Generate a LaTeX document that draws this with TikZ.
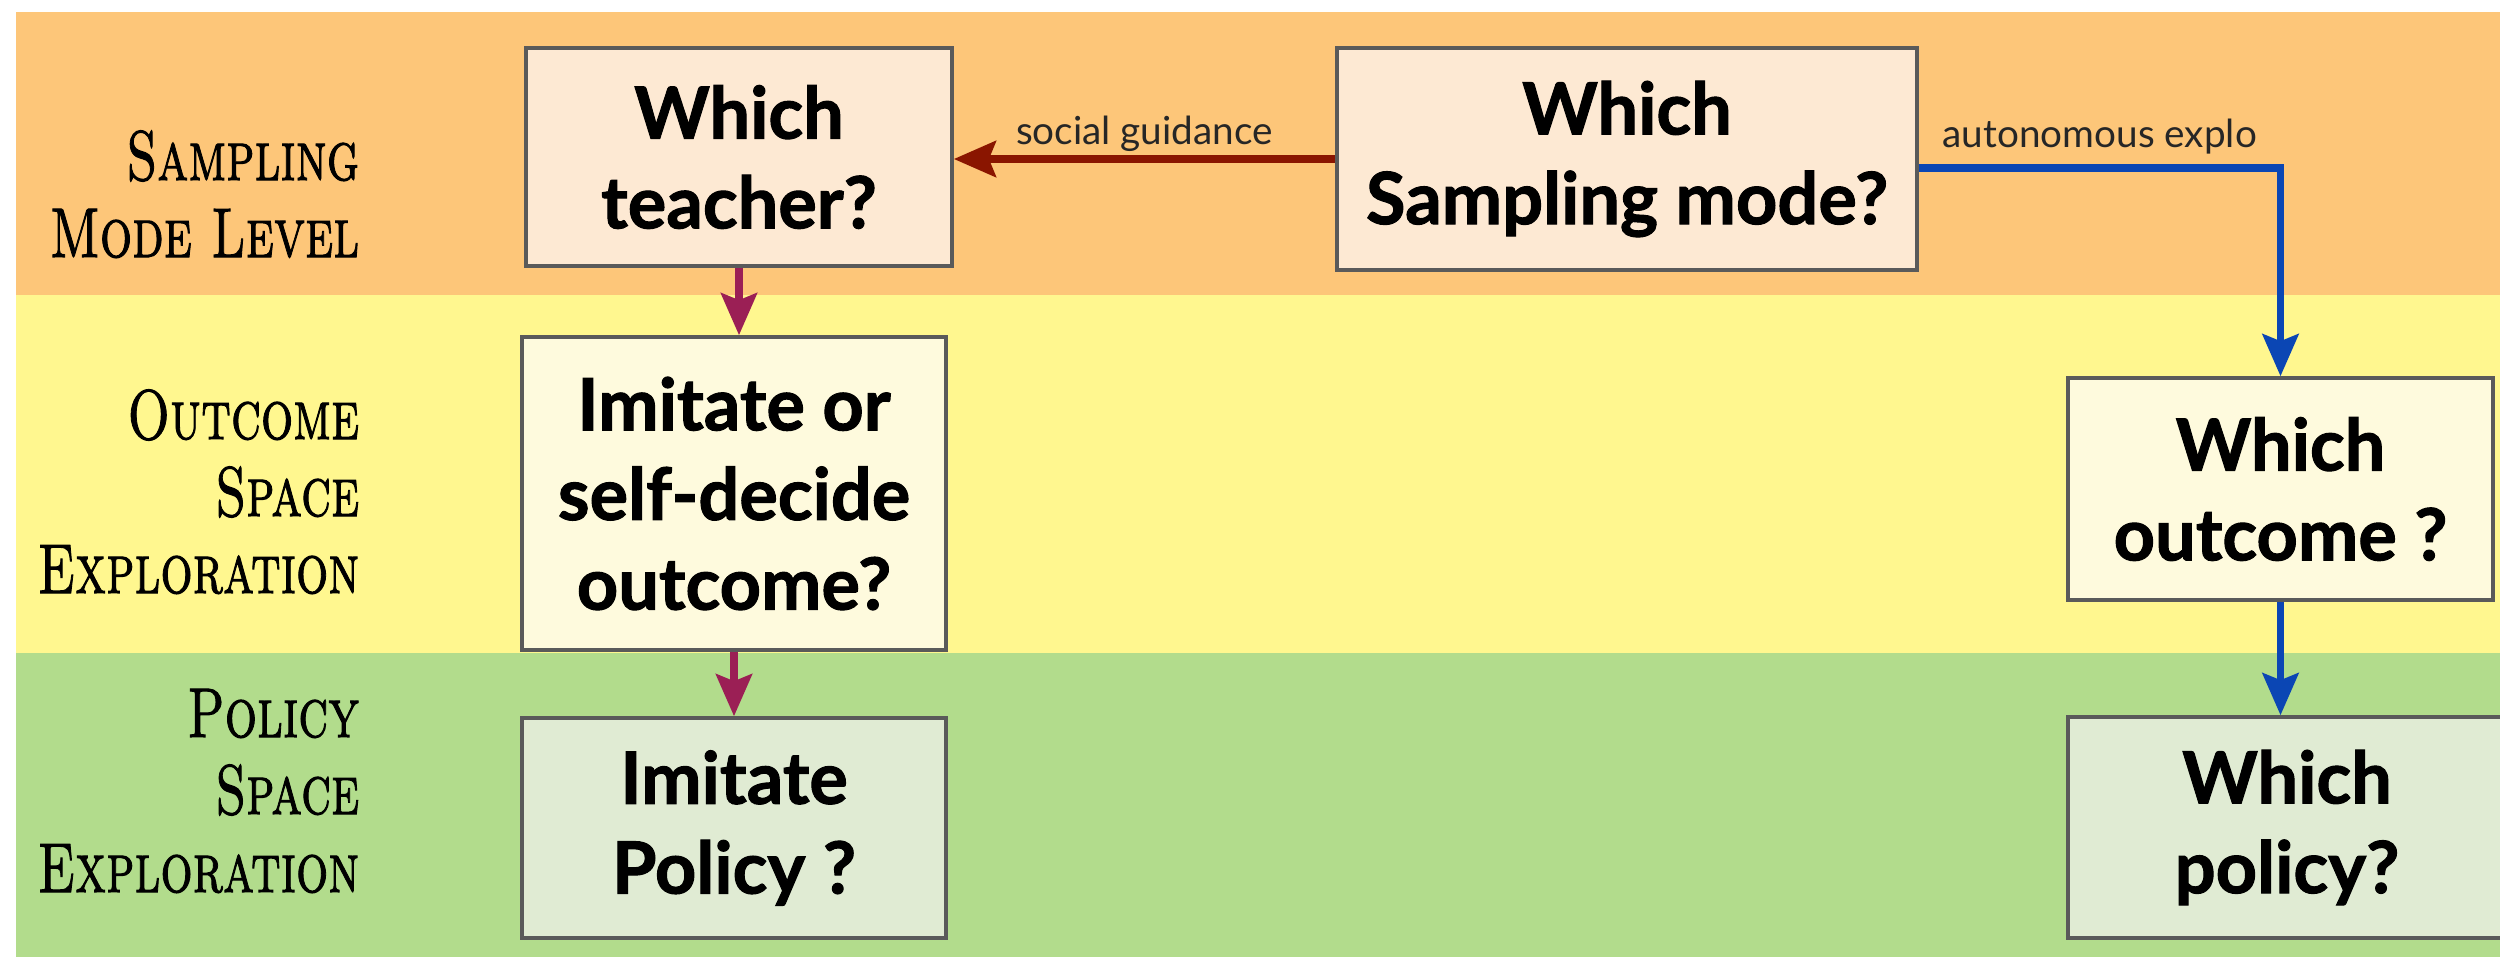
\documentclass[tikz,border=0pt]{standalone}
\usepackage{fontspec}
\setsansfont{Lato}
% heavier faces for the box questions and the level titles
\newfontfamily\questionfont{Lato}[BoldFeatures={FakeBold=1.4}]
\newfontfamily\levelfont{lmromancaps10-regular.otf}[FakeBold=1.6]
\usetikzlibrary{arrows.meta}

% band and box colours
\definecolor{bandorange}{HTML}{FDC679}
\definecolor{bandyellow}{HTML}{FFF78F}
\definecolor{bandgreen}{HTML}{B2DC8C}
\definecolor{fillpeach}{HTML}{FDE9D3}
\definecolor{fillcream}{HTML}{FEFADD}
\definecolor{fillsage}{HTML}{E0EBD3}
\definecolor{boxline}{HTML}{5A5A5A}
% connector colours
\definecolor{socialred}{HTML}{8A1500}
\definecolor{autoblue}{HTML}{0B46B4}
\definecolor{imitmag}{HTML}{9B1F55}

% one condensed small-caps line of a level title
\newcommand{\levelline}[1]{\scalebox{0.72}[1]{#1}}

\begin{document}
\begin{tikzpicture}[x=0.01cm, y=-0.01cm,
  qbox/.style={draw=boxline, line width=1pt, inner sep=0pt, align=center,
    font=\questionfont\bfseries\fontsize{20.5}{25.5}\selectfont},
  levelname/.style={anchor=base east, inner sep=0pt,
    font=\levelfont\fontsize{20}{22}\selectfont},
  edgelabel/.style={font=\sffamily\fontsize{11}{13}\selectfont, inner sep=0pt, text=black!85},
  flow/.style={line width=2pt, -{Stealth[length=0.42cm, width=0.36cm, inset=0.07cm]}},
]
\clip (0,0) rectangle (2500,957);

% horizontal level bands
\fill[bandorange] (16,12) rectangle (2500,295);
\fill[bandyellow] (16,295) rectangle (2500,653);
\fill[bandgreen]  (16,653) rectangle (2500,957);

% level titles
\node[levelname] (lvlsamp1) at (360,180) {\levelline{Sampling}};
\node[levelname] (lvlsamp2) at (360,257) {\levelline{Mode Level}};
\node[levelname] (lvlout1) at (360,439) {\levelline{Outcome}};
\node[levelname] (lvlout2) at (360,516) {\levelline{Space}};
\node[levelname] (lvlout3) at (360,593) {\levelline{Exploration}};
\node[levelname] (lvlpol1) at (360,737) {\levelline{Policy}};
\node[levelname] (lvlpol2) at (360,814) {\levelline{Space}};
\node[levelname] (lvlpol3) at (360,892) {\levelline{Exploration}};

% question boxes
\node[qbox, fill=fillpeach, minimum width=4.26cm, minimum height=2.18cm]
  (teacher) at (739,157) {Which\\teacher?};
\node[qbox, fill=fillpeach, minimum width=5.80cm, minimum height=2.22cm]
  (sampling) at (1627,159) {Which\\Sampling mode?};
\node[qbox, fill=fillcream, minimum width=4.24cm, minimum height=3.13cm]
  (imo) at (734,493.5) {Imitate or\\self-decide\\outcome?};
\node[qbox, fill=fillsage, minimum width=4.24cm, minimum height=2.20cm]
  (impol) at (734,828) {Imitate\\Policy ?};
\node[qbox, fill=fillcream, minimum width=4.25cm, minimum height=2.22cm]
  (whout) at (2280.5,489) {Which\\outcome ?};
\node[qbox, fill=fillsage, minimum width=4.38cm, minimum height=2.21cm]
  (whpol) at (2287,827.5) {Which\\policy?};

% connectors
\draw[flow, socialred] (sampling.west) -- (sampling.west -| teacher.east)
  node[midway, above=1pt, edgelabel] {social guidance};
\draw[flow, autoblue] ([yshift=-0.09cm]sampling.east) -| (whout.north)
  node[pos=0.25, above=3pt, edgelabel] {autonomous explo};
\draw[flow, autoblue] (whout.south) -- (whout.south |- whpol.north);
\draw[flow, imitmag] (teacher.south) -- (teacher.south |- imo.north);
\draw[flow, imitmag] (imo.south) -- (imo.south |- impol.north);
\end{tikzpicture}
\end{document}
